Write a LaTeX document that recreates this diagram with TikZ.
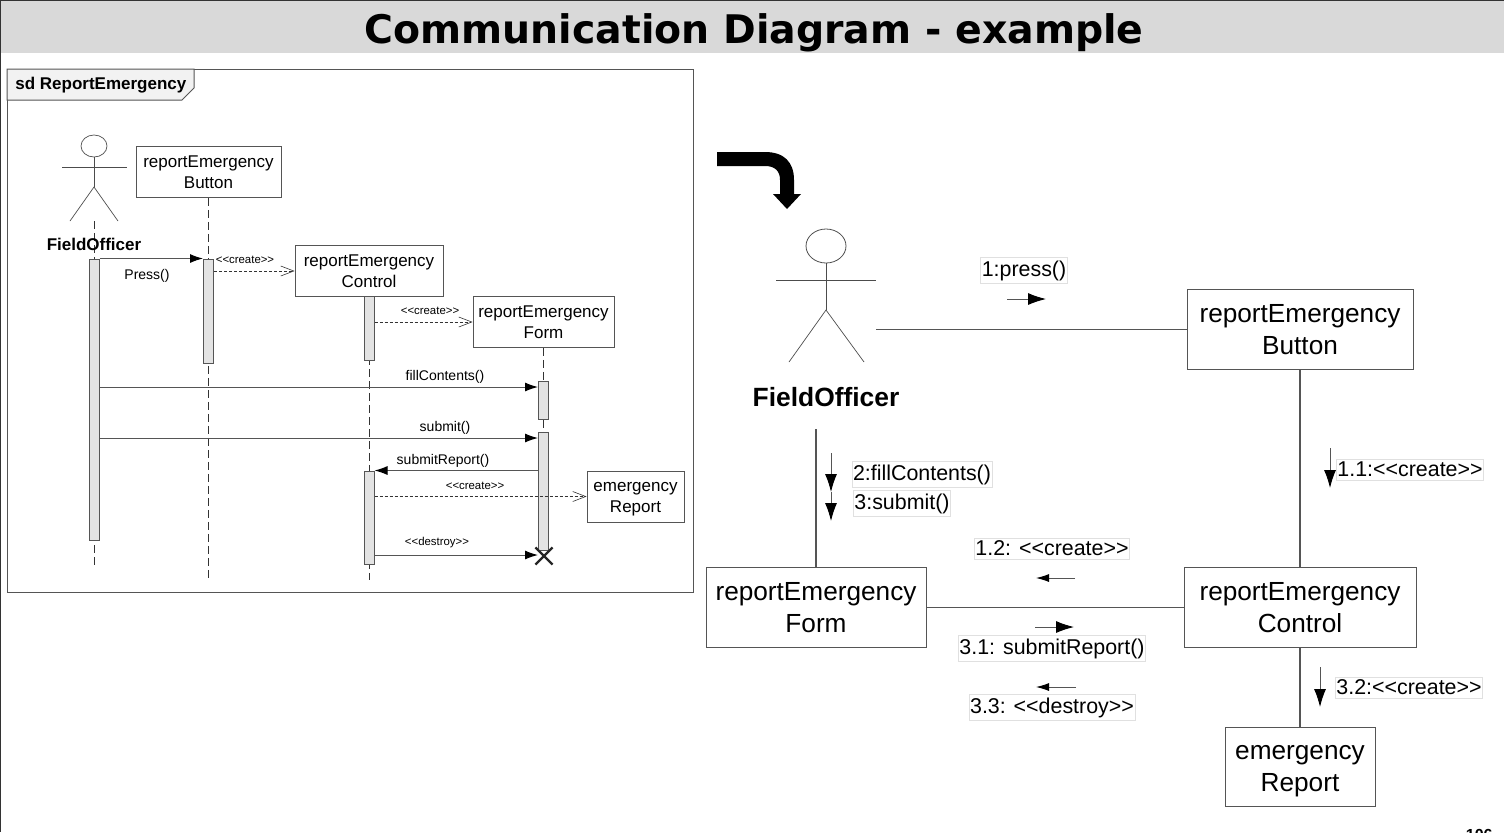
\documentclass[tikz,border=0pt]{standalone}
\usepackage{fontspec}
\setmainfont{Liberation Sans}
\newfontfamily\titlefont{DejaVu Sans}
\usepackage{xcolor}
\usetikzlibrary{arrows.meta, shapes.geometric, shapes.misc}

\definecolor{bandgray}{HTML}{D9D9D9}
\definecolor{bargray}{HTML}{E3E3E3}
\definecolor{linegray}{HTML}{555555}

\newcommand{\lts}{<{}<}
\newcommand{\gts}{>{}>}

\tikzset{
	objbox/.style={draw=linegray, fill=white, align=center, inner sep=0pt, line width=0.5pt, font=\fontsize{13.1}{16}\selectfont},
	smallbox/.style={draw=linegray, fill=white, align=center, inner sep=0pt, line width=0.4pt, font=\fontsize{8.5}{10.4}\selectfont},
	actbar/.style={draw=linegray, fill=bargray, inner sep=0pt, line width=0.5pt, minimum width=5pt},
	lifeline/.style={dash pattern=on 4pt off 2pt, line width=0.35pt, black!80},
	msg/.style={-{Latex[length=6.5pt,width=4.5pt,color=black,fill=black]}, line width=0.5pt, linegray},
	createmsg/.style={-{Straight Barb[length=6.5pt,width=5pt,line width=0.3pt]}, dash pattern=on 1.5pt off 1pt, line width=0.35pt, black!80},
	link/.style={line width=0.55pt, linegray},
	dirarrow/.style={-{Latex[length=9pt,width=6pt,color=black,fill=black]}, line width=0.45pt, linegray},
	dirarrowsmall/.style={-{Latex[length=6.5pt,width=4pt,color=black,fill=black]}, line width=0.45pt, linegray},
	msglabel/.style={inner sep=0pt, yshift=-0.9pt, font=\fontsize{7}{8}\selectfont},
	crlabel/.style={inner sep=0pt, yshift=-0.5pt, font=\fontsize{5.7}{8}\selectfont},
	seqlabel/.style={draw=black!12, line width=0.4pt, inner xsep=0.5pt, inner ysep=1.5pt, yshift=-0.8pt, font=\fontsize{10.7}{12}\selectfont},
	limb/.style={line width=0.35pt, black!70},
}

\begin{document}
\begin{tikzpicture}[x=0.5pt, y=-0.5pt]
	\useasboundingbox (0,0) rectangle (1504,832);
	\clip (0,0) rectangle (1504,832);

	% Title band
	\fill[bandgray] (0,0) rectangle (1504,53);
	\draw[black!80, line width=0.8pt] (0,832) -- (0,0) -- (1504,0);
	\node (title) at (754,32.5) {\titlefont\fontsize{19.7}{24}\selectfont\bfseries Communication Diagram - example};
	\node[anchor=base east, inner sep=0pt] (pagenum) at (1493,840) {\fontsize{8}{10}\selectfont\bfseries 106};

	% Sequence frame
	\draw[linegray, line width=0.5pt] (7,69) rectangle (693,592);
	\draw[linegray, line width=0.5pt, fill=black!5] (7,69) -- (194,69) -- (194,88) -- (182,100) -- (7,100) -- cycle;
	\node[inner sep=0pt, anchor=west] (sdname) at (15,85.5) {\fontsize{8.5}{10}\selectfont\bfseries sd ReportEmergency};

	% Left actor
	\node[draw=black!70, ellipse, inner sep=0pt, minimum width=13pt, minimum height=11pt, line width=0.35pt] (headA) at (94,146) {};
	\coordinate (armAl) at (62,167);
	\coordinate (armAr) at (127,167);
	\coordinate (hipA) at (94,187);
	\coordinate (legAl) at (70,221);
	\coordinate (legAr) at (118,221);
	\draw[limb] (headA.south) -- (hipA);
	\draw[limb] (armAl) -- (armAr);
	\draw[limb] (legAl) -- (hipA) -- (legAr);

	% Objects on top
	\node[smallbox, minimum width=72.5pt, minimum height=25.5pt] (buttonA) at (208.5,172) {reportEmergency\\Button};
	\node[smallbox, minimum width=74pt, minimum height=25.5pt] (controlA) at (369,271) {reportEmergency\\Control};
	\node[smallbox, minimum width=70.5pt, minimum height=25.5pt] (formA) at (543.5,322) {reportEmergency\\Form};
	\node[smallbox, minimum width=48.5pt, minimum height=25.5pt] (reportA) at (635.5,496.5) {\rule{0pt}{7.2pt}emergency\\Report};

	% Lifelines
	\coordinate (endA) at (94,568);
	\coordinate (endB) at (208.5,580);
	\coordinate (endC) at (369,580);
	\coordinate (endD) at (543.5,550);
	\draw[lifeline] (hipA |- legAl) -- (endA);
	\draw[lifeline] (buttonA.south) -- (endB);
	\draw[lifeline] (controlA.south) -- (endC);
	\draw[lifeline] (formA.south) -- (endD);

	% Activation bars
	\node[actbar, minimum height=140.5pt] (officerBar) at (94,399.5) {};
	\node[actbar, minimum height=52pt] (buttonBar) at (208.5,311) {};
	\node[actbar, minimum height=32pt] (controlBar) at (369,328) {};
	\node[actbar, minimum height=46.5pt] (controlBarB) at (369,517.5) {};
	\node[actbar, minimum height=19pt] (formBar) at (543.5,400) {};
	\node[actbar, minimum height=59pt] (formBarB) at (543.5,491) {};

	\node[inner sep=0pt] (officerA) at (94,244) {\fontsize{8.5}{10}\selectfont\bfseries FieldOfficer};

	% Message heights
	\coordinate (yCreateB) at (0,271);
	\coordinate (yFill) at (0,387);
	\coordinate (ySubmit) at (0,438);
	\coordinate (yDestroy) at (0,555);

	% Messages
	\draw[msg] (officerBar.north east) -- (buttonBar.north west);
	\node[msglabel] (pressA) at (147,274) {Press()};
	\draw[createmsg] (buttonBar.east |- yCreateB) -- (controlA.west |- yCreateB);
	\node[crlabel] (createB) at (245,259) {\lts create\gts};
	\draw[createmsg] (controlBar.east |- formA.west) -- (formA.west);
	\node[crlabel] (createC) at (430,310) {\lts create\gts};
	\draw[msg] (officerBar.east |- yFill) -- (formBar.west |- yFill);
	\node[msglabel] (fillA) at (445,375) {fillContents()};
	\draw[msg] (officerBar.east |- ySubmit) -- (formBarB.west |- ySubmit);
	\node[msglabel] (submitA) at (445,426) {submit()};
	\draw[msg] (formBarB.west |- controlBarB.north) -- (controlBarB.north east);
	\node[msglabel] (submitReportA) at (443,459) {submitReport()};
	\draw[createmsg] (controlBarB.east |- reportA.west) -- (reportA.west);
	\node[crlabel] (createD) at (475,485) {\lts create\gts};
	\node[cross out, draw=black!85, line width=1.1pt, inner sep=0pt, minimum size=7.5pt] (destroyX) at (544,556) {};
	\draw[msg] (controlBarB.east |- yDestroy) -- (formBarB.west |- yDestroy);
	\node[crlabel] (destroyA) at (437,542) {\lts destroy\gts};

	% Big arrow
	\fill[black] (717,152) -- (765,152) .. controls (784,152) and (794,162) .. (794,180) -- (794,194) -- (801,194) -- (787,209) -- (773,194) -- (780,194) -- (780,180) .. controls (780,171) and (775,166) .. (765,166) -- (717,166) -- cycle;

	% Right actor
	\node[draw=black!70, ellipse, inner sep=0pt, minimum width=20pt, minimum height=17pt, line width=0.4pt] (headB) at (826,246) {};
	\coordinate (armBl) at (776,280);
	\coordinate (armBr) at (876,280);
	\coordinate (hipB) at (826,310);
	\coordinate (legBl) at (789,362);
	\coordinate (legBr) at (864,362);
	\draw[limb] (headB.south) -- (hipB);
	\draw[limb] (armBl) -- (armBr);
	\draw[limb] (legBl) -- (hipB) -- (legBr);
	\node[inner sep=0pt] (officerB) at (826,397) {\fontsize{13.2}{16}\selectfont\bfseries FieldOfficer};

	% Objects
	\node[objbox, minimum width=113pt, minimum height=40pt] (button) at (1300,329.5) {reportEmergency\\Button};
	\node[objbox, minimum width=116pt, minimum height=40pt] (control) at (1300,607.5) {reportEmergency\\Control};
	\node[objbox, minimum width=110pt, minimum height=40pt] (form) at (816,607.5) {reportEmergency\\Form};
	\node[objbox, minimum width=75pt, minimum height=39.5pt] (report) at (1300,766.5) {\rule{0pt}{11.5pt}emergency\\Report};

	% Links
	\coordinate (linkStart) at (816,429);
	\draw[link] (armBr |- button.west) -- (button.west);
	\draw[link] (button.south) -- (control.north);
	\draw[link] (linkStart) -- (form.north);
	\draw[link] (form.east) -- (control.west);
	\draw[link] (control.south) -- (report.north);

	% Sequence labels
	\node[seqlabel] (press) at (1024,269) {1:press()};
	\node[seqlabel] (fill) at (922,473) {2:fillContents()};
	\node[seqlabel] (submit) at (902,502) {3:submit()};
	\node[seqlabel] (createA) at (1410,468) {1.1:\lts create\gts};
	\node[seqlabel] (createF) at (1052,547) {1.2: \lts create\gts};
	\node[seqlabel] (submitReport) at (1052,647) {3.1: submitReport()};
	\node[seqlabel] (destroy) at (1052,706) {3.3: \lts destroy\gts};
	\node[seqlabel] (createR) at (1409,686) {3.2:\lts create\gts};

	% Direction arrows
	\coordinate (pa) at (1007,299); \coordinate (pb) at (1046,299);
	\coordinate (fa) at (831,453); \coordinate (fb) at (831,492); \coordinate (fc) at (831,521);
	\coordinate (ca) at (1330,448); \coordinate (cb) at (1330,488);
	\coordinate (ga) at (1075,578); \coordinate (gb) at (1036,578);
	\coordinate (sa) at (1035,627); \coordinate (sb) at (1074,627);
	\coordinate (da) at (1076,687); \coordinate (db) at (1036,687);
	\coordinate (ra) at (1320,667); \coordinate (rb) at (1320,707);
	\draw[dirarrow] (pa) -- (pb);
	\draw[dirarrow] (fa) -- (fb);
	\draw[dirarrow] (fb) -- (fc);
	\draw[dirarrow] (ca) -- (cb);
	\draw[dirarrowsmall] (ga) -- (gb);
	\draw[dirarrow] (sa) -- (sb);
	\draw[dirarrowsmall] (da) -- (db);
	\draw[dirarrow] (ra) -- (rb);
\end{tikzpicture}
\end{document}
